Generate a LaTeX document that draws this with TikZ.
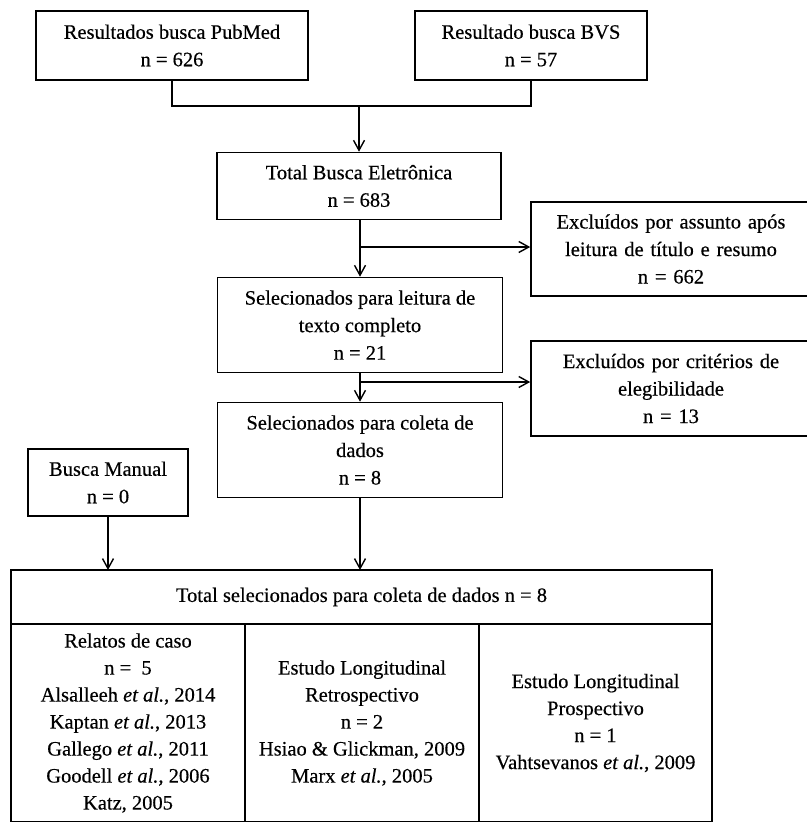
\documentclass[tikz,border=0pt]{standalone}
\usepackage{fontspec}
\setmainfont{Liberation Serif}[FakeBold=0.4]
\usetikzlibrary{arrows.meta}

\tikzset{
	box/.style={draw, line width=1.6pt, align=center, inner sep=0pt,
		font=\fontsize{20.5}{27.5}\selectfont},
	cell/.style={draw, line width=1.6pt, align=center, inner sep=0pt, outer sep=0pt,
		font=\fontsize{20.5}{27}\selectfont},
	flow/.style={line width=2pt, -{Straight Barb[length=10pt,width=11pt,line width=1.4pt]}},
	side/.style={line width=1.4pt, -{Straight Barb[length=10pt,width=11pt,line width=1.4pt]}}
}

\begin{document}
\begin{tikzpicture}[x=1pt, y=-1pt]
		\useasboundingbox (0,0) rectangle (806,822);

		% Searches
		\node[box, minimum width=272pt, minimum height=69pt] (pubmed) at (172,45.5)
			{Resultados busca PubMed\\n = 626};
		\node[box, minimum width=232pt, minimum height=69pt] (bvs) at (531,45.5)
			{Resultado busca BVS\\n = 57};

		% Main column
		\node[box, minimum width=284pt, minimum height=67pt] (total) at (359,186)
			{Total Busca Eletrônica\\n = 683};
		\node[box, minimum width=285pt, minimum height=95pt] (leitura) at (360,325)
			{Selecionados para leitura de\\texto completo\\n = 21};
		\node[box, minimum width=285pt, minimum height=95pt] (coleta) at (360,450)
			{Selecionados para coleta de\\dados\\n = 8};

		% Exclusions (cut at the right edge)
		\node[box, minimum width=280pt, minimum height=94pt, text width=276pt] (exclA) at (671,249)
			{Excluídos por assunto após\\leitura de título e resumo\\n = 662\hspace*{6pt}};
		\node[box, minimum width=280pt, minimum height=95pt, text width=276pt] (exclB) at (671,388.5)
			{Excluídos por critérios de\\elegibilidade\\n = 13\hspace*{6pt}};

		\node[box, minimum width=160pt, minimum height=67pt] (manual) at (108,482.5)
			{Busca Manual\\n = 0};

		% Final table
		\node[cell, minimum width=701pt, minimum height=54pt] (hdr) at (361.5,597)
			{Total selecionados para coleta de dados n = 8};
		\node[cell, minimum width=234pt, minimum height=198pt, anchor=north west] (relatos) at (hdr.south west)
			{Relatos de caso\\n =\ \ 5\\Alsalleeh \textit{et al.}, 2014\\Kaptan \textit{et al.}, 2013\\Gallego \textit{et al.}, 2011\\Goodell \textit{et al.}, 2006\\Katz, 2005};
		\node[cell, minimum width=234pt, minimum height=198pt, anchor=north west] (retro) at (relatos.north east)
			{Estudo Longitudinal\\Retrospectivo\\n = 2\\Hsiao \& Glickman, 2009\\Marx \textit{et al.}, 2005};
		\node[cell, minimum width=233pt, minimum height=198pt, anchor=north west] (prosp) at (retro.north east)
			{Estudo Longitudinal\\Prospectivo\\n = 1\\Vahtsevanos \textit{et al.}, 2009};
		\draw[line width=2.4pt] (hdr.north west) rectangle (prosp.south east);
		\draw[line width=2.4pt] (hdr.south west) -- (hdr.south east);

		% Connectors
		\coordinate (join) at (359,106);
		\draw[line width=2pt] (pubmed.south) |- (join) -| (bvs.south);
		\draw[flow] (join) -- (total.north);

		\draw[flow] (total.south -| leitura.north) -- (leitura.north);
		\coordinate (forkA) at (360,247);
		\draw[side] (forkA) -- (forkA -| exclA.west);

		\draw[flow] (leitura.south) -- (coleta.north);
		\coordinate (forkB) at (360,382);
		\draw[side] (forkB) -- (forkB -| exclB.west);

		\draw[side] (manual.south) -- (manual.south |- hdr.north);
		\draw[flow] (coleta.south) -- (coleta.south |- hdr.north);
	\end{tikzpicture}
\end{document}
